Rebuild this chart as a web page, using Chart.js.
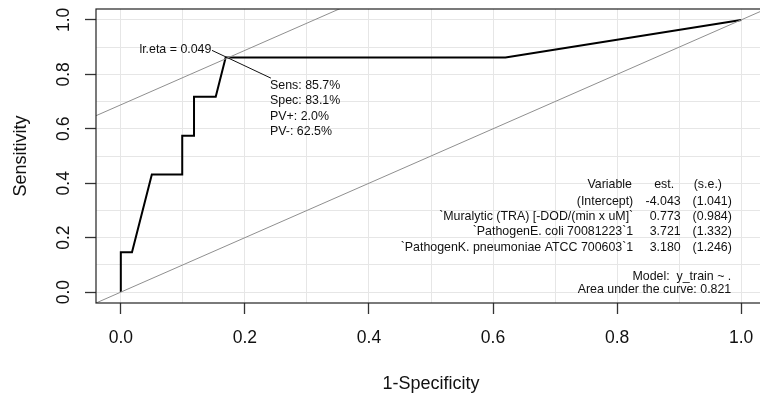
<!DOCTYPE html>
<html>
<head>
<meta charset="utf-8">
<script src="https://cdn.jsdelivr.net/npm/chart.js@4.4.1/dist/chart.umd.min.js"></script>
<style>
  html, body { margin: 0; padding: 0; background: #fff; overflow: hidden; }
  #wrap { width: 760px; height: 397px; overflow: hidden; }
</style>
</head>
<body>
<div id="wrap"><canvas id="roc" width="770" height="397"></canvas></div>
<script>
// ROC curve (1-specificity, sensitivity)
const rocFpr  = [0, 0, 0.018, 0.050, 0.099, 0.099, 0.118, 0.118, 0.153, 0.169, 0.620, 1.0];
const rocSens = [0, 0.146, 0.146, 0.432, 0.432, 0.574, 0.574, 0.718, 0.718, 0.862, 0.862, 1.0];

// reference lines (chance diagonal and the parallel through the optimum)
const diagX = [-0.04, 1.04];
const diagY = [-0.04, 1.04];
const optLineX = [-0.10, 0.40];
const optLineY = [0.588, 1.088];

// little pointer from the lr.eta label to the stats block
const pointerX = [0.147, 0.242];
const pointerY = [0.888, 0.786];

const gridValues = [0, 0.1, 0.2, 0.3, 0.4, 0.5, 0.6, 0.7, 0.8, 0.9, 1.0];
const tickValues = [0, 0.2, 0.4, 0.6, 0.8, 1.0];
const tickLabels = ['0.0', '0.2', '0.4', '0.6', '0.8', '1.0'];

const optLabel = 'lr.eta = 0.049';
const optStats = ['Sens: 85.7%', 'Spec: 83.1%', 'PV+: 2.0%', 'PV-: 62.5%'];

const tableHeader = ['Variable', 'est.', '(s.e.)'];
const tableVars = [
  '(Intercept)',
  '`Muralytic (TRA) [-DOD/(min x uM]`',
  '`PathogenE. coli 70081223`1',
  '`PathogenK. pneumoniae ATCC 700603`1'
];
const tableEst = ['-4.043', '0.773', '3.721', '3.180'];
const tableSe = ['(1.041)', '(0.984)', '(1.332)', '(1.246)'];
const modelText = 'Model:  y_train ~ .';
const aucText = 'Area under the curve: 0.821';

const FONT = "'Liberation Sans', Arial, sans-serif";
Chart.defaults.font.family = FONT;
Chart.defaults.color = '#111';

const toPoints = (xs, ys) => xs.map((x, i) => ({ x: x, y: ys[i] }));
const isMajor = (v) => tickValues.some(t => Math.abs(t - v) < 1e-9);

function axisOptions(axis) {
  return {
    type: 'linear',
    min: -0.04,
    max: 1.04,
    afterBuildTicks: (s) => { s.ticks = gridValues.map(v => ({ value: v })); },
    afterFit: (s) => {
      if (axis === 'x') s.height = 94; else s.width = 96;
    },
    border: { display: false },
    grid: {
      color: '#e6e6e6',
      lineWidth: 1,
      tickLength: 11,
      tickWidth: 1.3,
      tickColor: (ctx) => (ctx.tick && isMajor(ctx.tick.value)) ? '#333' : 'rgba(0,0,0,0)'
    },
    ticks: {
      display: axis === 'x',
      autoSkip: false,
      maxRotation: 0,
      minRotation: 0,
      padding: 14,
      font: { size: 17.5 },
      color: '#111',
      callback: (v) => {
        const i = tickValues.findIndex(t => Math.abs(t - v) < 1e-9);
        return i >= 0 ? tickLabels[i] : '';
      }
    },
    title: {
      display: true,
      text: axis === 'x' ? '1-Specificity' : 'Sensitivity',
      font: { size: 18 },
      color: '#111',
      padding: axis === 'x' ? { top: 0, bottom: 2 } : { top: 10, bottom: 0 }
    }
  };
}

const annotations = {
  id: 'annotations',
  afterDatasetsDraw(chart) {
    const { ctx } = chart;
    const xs = chart.scales.x, ys = chart.scales.y;
    const px = (v) => xs.getPixelForValue(v);
    const py = (v) => ys.getPixelForValue(v) + 1;
    ctx.save();
    ctx.fillStyle = '#111';
    ctx.textBaseline = 'middle';

    // y tick labels, rotated like R's default axis
    ctx.font = '17.5px ' + FONT;
    ctx.textAlign = 'center';
    tickValues.forEach((v, i) => {
      ctx.save();
      ctx.translate(64, ys.getPixelForValue(v));
      ctx.rotate(-Math.PI / 2);
      ctx.fillText(tickLabels[i], 0, 0);
      ctx.restore();
    });

    ctx.font = '12.4px ' + FONT;
    // optimum label and stats
    ctx.textAlign = 'right';
    ctx.fillText(optLabel, px(0.146), py(0.893));
    ctx.textAlign = 'left';
    const statY = [0.761, 0.706, 0.648, 0.593];
    optStats.forEach((t, i) => ctx.fillText(t, px(0.2405), py(statY[i])));

    // model table
    const rowY = [0.397, 0.336, 0.281, 0.225, 0.168];
    ctx.textAlign = 'right';
    ctx.fillText(tableHeader[0], px(0.824), py(rowY[0]));
    ctx.fillText(tableHeader[1], px(0.892), py(rowY[0]));
    ctx.fillText(tableHeader[2], px(0.969), py(rowY[0]));
    tableVars.forEach((t, i) => {
      ctx.fillText(t, px(0.826), py(rowY[i + 1]));
      ctx.fillText(tableEst[i], px(0.9025), py(rowY[i + 1]));
      ctx.fillText(tableSe[i], px(0.985), py(rowY[i + 1]));
    });
    ctx.fillText(modelText, px(0.984), py(0.059));
    ctx.fillText(aucText, px(0.984), py(0.014));
    ctx.restore();
  },
  afterDraw(chart) {
    const { ctx, chartArea: a } = chart;
    ctx.save();
    ctx.strokeStyle = '#222';
    ctx.lineWidth = 1.2;
    ctx.strokeRect(a.left, a.top, a.right - a.left, a.bottom - a.top);
    ctx.restore();
  }
};

new Chart(document.getElementById('roc'), {
  type: 'scatter',
  data: {
    datasets: [
      { data: toPoints(diagX, diagY), showLine: true, borderColor: '#8f8f8f', borderWidth: 1, pointRadius: 0 },
      { data: toPoints(optLineX, optLineY), showLine: true, borderColor: '#8f8f8f', borderWidth: 1, pointRadius: 0 },
      { data: toPoints(pointerX, pointerY), showLine: true, borderColor: '#111', borderWidth: 1, pointRadius: 0 },
      { data: toPoints(rocFpr, rocSens), showLine: true, borderColor: '#000', borderWidth: 2, pointRadius: 0, tension: 0 }
    ]
  },
  options: {
    responsive: false,
    animation: false,
    devicePixelRatio: 1,
    layout: { padding: { top: 9, right: 4, left: 0, bottom: 0 } },
    plugins: { legend: { display: false }, tooltip: { enabled: false } },
    scales: { x: axisOptions('x'), y: axisOptions('y') }
  },
  plugins: [annotations]
});
</script>
</body>
</html>
